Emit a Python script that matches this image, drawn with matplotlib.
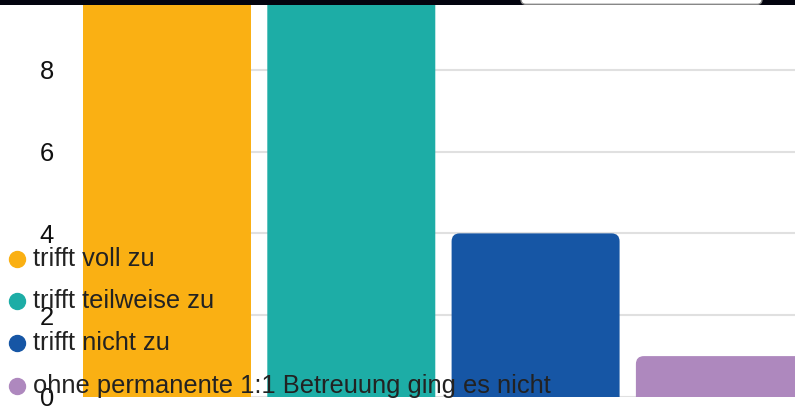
import matplotlib
matplotlib.use("Agg")
import matplotlib.pyplot as plt
from matplotlib.patches import FancyBboxPatch, Rectangle
from matplotlib.lines import Line2D

plt.rcParams['font.family'] = ['Liberation Sans', 'DejaVu Sans']

# data
categories = ["trifft voll zu", "trifft teilweise zu", "trifft nicht zu",
              "ohne permanente 1:1 Betreuung ging es nicht"]
values = [11, 10, 4, 1]
colors = ["#FAB013", "#1DADA6", "#1656A5", "#AE88BE"]
y_ticks = [0, 2, 4, 6, 8]

W, H = 795, 407
fig = plt.figure(figsize=(W / 100, H / 100), dpi=100)
ax = fig.add_axes([83 / W, 10 / H, (W - 83) / W, (H - 10) / H])

bar_w = 0.9115
ax.set_xlim(-bar_w / 2, -bar_w / 2 + (W - 83) / 184.3)
ax.set_ylim(0, 397 / 40.9)

# bars with rounded tops (bottom part clipped by the axes)
for i, (v, c) in enumerate(zip(values, colors)):
    p = FancyBboxPatch((i - bar_w / 2, -1), bar_w, v + 1,
                       boxstyle="round,pad=0,rounding_size=0.0434",
                       mutation_aspect=4.51, facecolor=c, edgecolor="none",
                       zorder=3)
    ax.add_patch(p)

ax.set_yticks(y_ticks)
ax.set_yticklabels([str(t) for t in y_ticks], fontsize=18.4, color="#111111")
ax.set_xticks([])
ax.tick_params(axis="y", length=0, pad=20.9)
ax.grid(axis="y", color="#e0e0e0", linewidth=1.5, zorder=0)
ax.set_axisbelow(True)
for s in ax.spines.values():
    s.set_visible(False)

# legend overlaid on the lower left
row_y = [259.3, 301.3, 343.3, 385.5]
for name, c, ry in zip(categories, colors, row_y):
    yf = 1 - ry / H
    fig.add_artist(Line2D([17.3 / W], [yf], marker="o", markersize=11.5,
                          color=c, linestyle="none", zorder=10))
    fig.text(33 / W, yf, name, fontsize=18.4, color="#222222",
             va="center", ha="left", zorder=10)

# dark band at the top and the cut-off white box
fig.add_artist(Rectangle((0, 1 - 5 / H), 1, 5 / H, transform=fig.transFigure,
                         facecolor="#03040f", edgecolor="none", zorder=20))
fig.add_artist(FancyBboxPatch((521 / W, 1 - 4.3 / H), 241 / W, 10 / H,
                              boxstyle="round,pad=0,rounding_size=0.006",
                              mutation_aspect=W / H,
                              transform=fig.transFigure, facecolor="white",
                              edgecolor="#888888", linewidth=1, zorder=21))

fig.savefig("out.png", dpi=100)
